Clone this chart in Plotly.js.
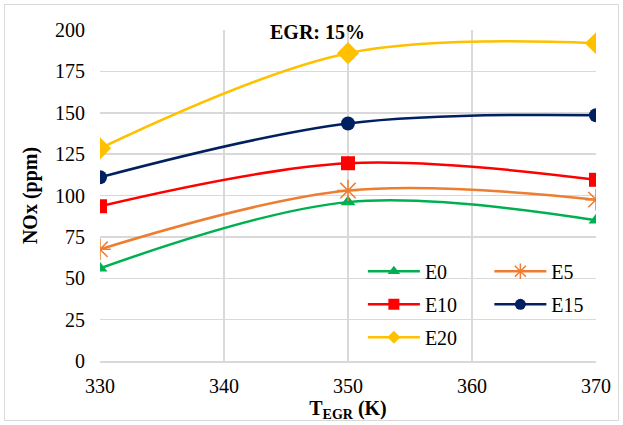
<!DOCTYPE html>
<html><head><meta charset="utf-8">
<script src="https://cdn.plot.ly/plotly-3.0.1.min.js"></script>
<style>
html,body{margin:0;padding:0;background:#fff;}
#wrap{position:relative;width:623px;height:425px;}
#chart{width:623px;height:425px;}
#frame{position:absolute;left:4px;top:4px;width:613px;height:415px;border:1px solid #d9d9d9;pointer-events:none;}
</style></head>
<body>
<div id="wrap"><div id="chart"></div><div id="frame"></div></div>
<script>
const tEGR = [330, 350, 370];
const E0 = [56, 96, 85];
const E5 = [67.5, 103, 97.5];
const E10 = [93.5, 119.5, 109.5];
const E15 = [111, 143.5, 148.5];
const E20 = [128.5, 186, 192];
const seriesNames = ["E0", "E5", "E10", "E15", "E20"];
const seriesData = [E0, E5, E10, E15, E20];
const colors = ["#00B050", "#ED7D31", "#FF0000", "#002060", "#FFC000"];
const symbols = ["triangle-up", "asterisk-open", "square", "circle", "diamond"];
const sizes = [13, 18, 14, 14, 17];
const legendSizes = [11, 13, 11, 11, 10];
const legendOf = ["legend", "legend2", "legend", "legend2", "legend"];

const traces = [];
seriesData.forEach((d, i) => {
  traces.push({
    x: tEGR, y: d, name: seriesNames[i], type: "scatter", mode: "lines+markers",
    showlegend: false,
    line: {color: colors[i], width: 2.5, shape: "spline", smoothing: 1},
    marker: {symbol: symbols[i], size: sizes[i], color: colors[i],
             line: {color: colors[i], width: symbols[i] === "asterisk-open" ? 1.5 : 0}}
  });
});
seriesData.forEach((d, i) => {
  traces.push({
    x: [null], y: [null], name: seriesNames[i], type: "scatter", mode: "lines+markers",
    legend: legendOf[i], legendgroup: "g" + i, showlegend: true,
    line: {color: colors[i], width: 2.5},
    marker: {symbol: symbols[i], size: legendSizes[i], color: colors[i],
             line: {color: colors[i], width: symbols[i] === "asterisk-open" ? 1.5 : 0}}
  });
});

const font = "Liberation Serif";
const legendBase = {orientation: "v", yanchor: "top", xanchor: "left", bgcolor: "rgba(0,0,0,0)",
  font: {family: font, size: 20, color: "#000"}, tracegroupgap: 4, itemwidth: 52, traceorder: "grouped"};
const layout = {
  width: 623, height: 425,
  margin: {l: 100, r: 27, t: 30, b: 64},
  paper_bgcolor: "#fff", plot_bgcolor: "#fff",
  font: {family: font, size: 20, color: "#000"},
  showlegend: true,
  legend: Object.assign({}, legendBase, {x: 0.53, y: 0.33}),
  legend2: Object.assign({}, legendBase, {x: 0.785, y: 0.33}),
  xaxis: {range: [330, 370], dtick: 10, tick0: 330, showgrid: true, gridcolor: "#d9d9d9", gridwidth: 1.5,
          zeroline: false, showline: true, linecolor: "#d9d9d9", linewidth: 1.5, ticks: "", ticklen: 0,
          ticklabelstandoff: 6,
          tickfont: {family: font, size: 20}, automargin: false,
          title: {text: "<b>T<sub>EGR</sub> (K)</b>", font: {family: font, size: 20}, standoff: 0}},
  yaxis: {range: [0, 200], dtick: 25, tick0: 0, showgrid: true, gridcolor: "#d9d9d9", gridwidth: 1.5,
          zeroline: false, showline: false, ticks: "", ticklen: 0, ticklabelstandoff: 14,
          tickfont: {family: font, size: 20}, automargin: false,
          title: {text: "<b>NOx (ppm)</b>", font: {family: font, size: 20}, standoff: 12}},
  annotations: [{text: "<b>EGR: 15%</b>", xref: "paper", yref: "paper", x: 0.4375, y: 0.994,
                 xanchor: "center", yanchor: "middle", showarrow: false,
                 font: {family: font, size: 20, color: "#000"}}]
};
Plotly.newPlot("chart", traces, layout, {displayModeBar: false, staticPlot: true});
</script>
</body></html>
